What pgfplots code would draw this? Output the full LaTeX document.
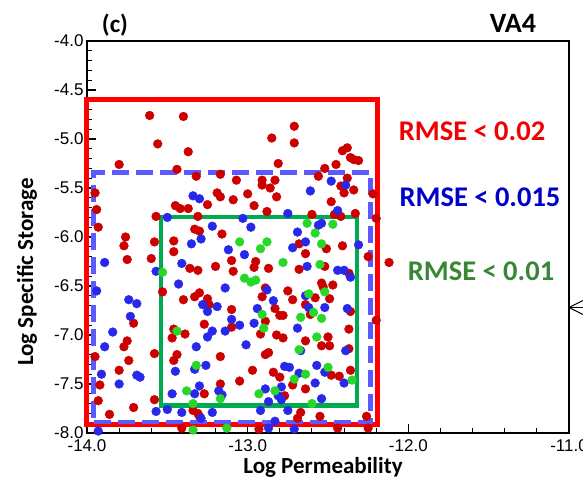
\documentclass[border=0pt]{standalone}
\usepackage{fontspec}
\setmainfont{Liberation Sans}
\newfontfamily\calfont{Carlito}
\usepackage{pgfplots}
\pgfplotsset{compat=1.18}
\definecolor{dotred}{RGB}{205,0,0}
\definecolor{dotblue}{RGB}{40,40,235}
\definecolor{dotgreen}{RGB}{40,215,40}
\definecolor{boxred}{RGB}{255,0,0}
\definecolor{boxblue}{RGB}{90,90,255}
\definecolor{boxgreen}{RGB}{0,170,80}
\definecolor{txtred}{RGB}{240,0,0}
\definecolor{txtblue}{RGB}{0,0,200}
\definecolor{txtgreen}{RGB}{55,135,55}
\begin{document}
\begin{tikzpicture}
\begin{axis}[
  at={(0,0)}, anchor=south west,
  scale only axis, width=482pt, height=392pt,
  xmin=-14, xmax=-11, ymin=-8, ymax=-4,
  clip=false,
  axis line style={black, line width=1.4pt},
  xtick={-14,-13,-12,-11}, xticklabels={-14.0,-13.0,-12.0,-11.0},
  ytick={-8,-7.5,-7,-6.5,-6,-5.5,-5,-4.5,-4},
  yticklabels={-8.0,-7.5,-7.0,-6.5,-6.0,-5.5,-5.0,-4.5,-4.0},
  minor x tick num=4, minor y tick num=4,
  xtick pos=left, ytick pos=left,
  tick align=inside,
  major tick length=9pt, minor tick length=5pt,
  major tick style={black, line width=1.6pt},
  minor tick style={black, line width=1.1pt},
  tick label style={font=\fontsize{17}{17}\selectfont},
  xticklabel style={yshift=-3pt},
  every axis plot/.append style={line join=miter},
]
% RMSE < 0.02
\addplot[only marks, mark=*, mark size=4.4pt, dotred, mark options={draw=dotred, fill=dotred}] coordinates {
(-13.61,-4.76) (-13.40,-4.77) (-13.56,-5.05) (-13.37,-5.13) (-13.80,-5.26) (-13.44,-5.31) (-13.32,-5.38) (-13.17,-5.36) (-13.07,-5.42)
(-12.71,-4.87) (-12.85,-4.99) (-12.71,-5.04) (-12.81,-5.25) (-12.52,-5.30) (-12.45,-5.26) (-12.41,-5.12) (-12.38,-5.09) (-12.36,-5.19) (-12.34,-5.21) (-12.31,-5.22)
(-12.91,-5.42) (-12.91,-5.47) (-12.83,-5.42) (-12.86,-5.50) (-12.56,-5.38) (-12.38,-5.40) (-12.42,-5.48) (-12.34,-5.52)
(-13.95,-5.55) (-13.94,-5.72) (-13.93,-5.90) (-13.19,-5.55) (-13.17,-5.59) (-13.09,-5.62) (-13.25,-5.67) (-13.45,-5.68) (-13.42,-5.71) (-13.37,-5.71) (-13.57,-5.79) (-13.31,-5.79) (-13.33,-5.92) (-13.30,-5.94) (-13.16,-5.97)
(-13.76,-6.00) (-13.77,-6.09) (-13.75,-6.23) (-13.58,-6.05) (-13.46,-6.04) (-13.46,-6.15) (-13.60,-6.22) (-13.36,-6.32) (-13.31,-6.34) (-13.20,-6.30) (-13.10,-6.24) (-13.09,-6.35)
(-13.00,-5.56) (-12.82,-5.59) (-12.40,-5.55) (-12.48,-5.64) (-12.96,-5.68) (-12.88,-5.74) (-12.60,-5.77) (-12.46,-5.77) (-12.42,-5.79) (-12.33,-5.76)
(-12.68,-6.07) (-12.51,-6.12) (-12.41,-6.09) (-12.64,-6.17) (-12.95,-6.25) (-12.96,-6.31) (-12.87,-6.32) (-12.68,-6.33) (-12.52,-6.30) (-12.37,-6.37)
(-13.71,-6.88) (-13.75,-7.06) (-13.77,-7.12) (-13.58,-7.19) (-13.95,-7.22) (-13.74,-7.26)
(-13.53,-6.56) (-13.40,-6.64) (-13.33,-6.61) (-13.30,-6.57) (-13.25,-6.63) (-13.24,-6.69) (-13.10,-6.74) (-13.27,-6.89) (-13.46,-6.94) (-13.39,-6.99) (-13.47,-7.03) (-13.10,-6.92) (-13.44,-7.20) (-13.46,-7.26) (-13.17,-7.22)
(-12.89,-6.52) (-12.91,-6.61) (-12.75,-6.55) (-12.54,-6.47) (-12.53,-6.51) (-12.47,-6.49) (-12.58,-6.62) (-12.49,-6.63) (-12.72,-6.64) (-12.64,-6.69) (-12.61,-6.79) (-12.36,-6.76) (-12.83,-6.73) (-12.80,-6.80) (-12.78,-6.80) (-12.89,-6.86) (-12.92,-6.99) (-12.37,-6.94) (-12.82,-7.00) (-12.78,-7.03) (-12.50,-7.02) (-12.64,-7.06) (-12.54,-7.11) (-12.49,-7.11) (-12.89,-7.20) (-12.87,-7.18) (-12.37,-7.14)
(-13.80,-7.36) (-13.92,-7.51) (-13.93,-7.67) (-13.71,-7.74) (-13.86,-7.81) (-13.58,-7.66) (-13.27,-7.60) (-13.17,-7.50) (-13.34,-7.77) (-13.31,-7.80) (-13.30,-7.83) (-13.41,-7.95)
(-12.97,-7.36) (-13.05,-7.47) (-12.84,-7.38) (-12.80,-7.43) (-12.48,-7.41) (-12.43,-7.42) (-12.36,-7.36) (-12.72,-7.51) (-12.64,-7.55) (-12.77,-7.62) (-12.67,-7.79) (-12.69,-7.85) (-12.55,-7.83) (-12.93,-7.96) (-12.44,-7.95) (-12.25,-7.95)
(-12.12,-6.26) (-12.25,-6.20) (-12.22,-5.56) (-12.20,-5.81) (-12.26,-7.83) (-12.20,-6.85)
};
% RMSE < 0.015
\addplot[only marks, mark=*, mark size=4.4pt, dotblue, mark options={draw=dotblue, fill=dotblue}] coordinates {
(-12.48,-5.43) (-12.39,-5.47) (-12.61,-5.53) (-13.34,-5.58) (-13.30,-5.61) (-13.50,-5.80) (-13.22,-5.89) (-13.35,-6.07) (-13.29,-6.02) (-13.12,-6.13)
(-13.89,-6.26) (-13.41,-6.27) (-13.57,-6.35) (-12.75,-5.76) (-12.44,-5.73) (-13.03,-5.81) (-12.98,-5.90) (-12.54,-5.86) (-12.56,-5.88) (-12.69,-5.95)
(-12.64,-6.05) (-12.72,-6.11) (-12.31,-6.08) (-13.02,-6.18) (-12.63,-6.30) (-12.44,-6.34) (-12.40,-6.34) (-13.94,-6.55) (-13.74,-6.64) (-13.69,-6.68)
(-13.73,-6.81) (-13.84,-6.97) (-13.89,-7.12) (-13.43,-6.48) (-13.28,-6.69) (-13.25,-6.76) (-13.19,-6.71) (-13.14,-6.52) (-13.10,-6.84) (-13.22,-6.96)
(-13.14,-6.96) (-13.25,-7.02) (-13.32,-7.12) (-12.88,-6.54) (-12.36,-6.41) (-12.64,-6.60) (-12.84,-6.65) (-12.62,-6.72) (-12.52,-6.72) (-12.38,-6.73)
(-12.94,-6.73) (-13.05,-6.90) (-12.96,-6.88) (-12.69,-6.93) (-13.01,-7.10) (-12.67,-7.16) (-12.39,-7.16) (-13.91,-7.40) (-13.80,-7.50) (-13.69,-7.41)
(-13.67,-7.43) (-13.93,-7.98) (-13.57,-7.78) (-13.33,-7.35) (-13.26,-7.31) (-13.45,-7.37) (-13.47,-7.60) (-13.33,-7.60) (-13.30,-7.52) (-13.18,-7.57)
(-13.16,-7.61) (-13.50,-7.76) (-13.41,-7.79) (-13.29,-7.85) (-13.22,-7.79) (-12.77,-7.32) (-12.74,-7.33) (-12.68,-7.39) (-12.57,-7.31) (-12.52,-7.38)
(-12.40,-7.49) (-12.58,-7.49) (-12.79,-7.53) (-12.89,-7.55) (-12.81,-7.62) (-12.79,-7.66) (-12.54,-7.65) (-12.87,-7.68) (-12.92,-7.77) (-12.75,-7.77)
(-12.83,-7.88) (-12.87,-7.95) (-12.71,-7.96)
};
% RMSE < 0.01
\addplot[only marks, mark=*, mark size=4.4pt, dotgreen, mark options={draw=dotgreen, fill=dotgreen}] coordinates {
(-12.63,-5.86) (-12.47,-5.87) (-12.58,-5.96) (-13.05,-6.05) (-12.88,-6.05) (-12.92,-6.12) (-12.54,-6.07) (-12.78,-6.26) (-12.55,-6.28) (-13.44,-6.96)
(-13.02,-6.42) (-12.98,-6.46) (-12.95,-6.44) (-12.62,-6.58) (-12.52,-6.56) (-12.59,-6.77) (-12.91,-6.79) (-12.67,-6.82) (-12.54,-6.83) (-12.90,-6.93)
(-12.57,-7.02) (-12.68,-7.15) (-13.32,-7.31) (-13.38,-7.57) (-13.17,-7.65) (-13.34,-7.70) (-13.34,-7.97) (-13.13,-7.95) (-12.64,-7.40) (-12.50,-7.33)
(-12.35,-7.46) (-12.71,-7.45) (-12.83,-7.57) (-12.93,-7.60) (-12.60,-7.70) (-13.53,-6.36)
};
% boxes
\addplot[boxred, line width=5pt, mark=none] coordinates {(-14.0,-7.91) (-12.192,-7.91) (-12.192,-4.594) (-14.0,-4.594) (-14.0,-7.91)} -- cycle;
\addplot[boxblue, line width=4.5pt, mark=none, dash pattern=on 17pt off 7pt] coordinates {(-13.958,-7.888) (-12.235,-7.888) (-12.235,-5.34) (-13.958,-5.34) (-13.958,-7.888)};
\addplot[boxgreen, line width=4.8pt, mark=none] coordinates {(-13.54,-7.723) (-12.32,-7.723) (-12.32,-5.796) (-13.54,-5.796) (-13.54,-7.723)} -- cycle;
\end{axis}
% labels
\node[font=\calfont\bfseries\fontsize{23}{23}\selectfont] at (236pt,-34pt) {Log Permeability};
\node[font=\calfont\bfseries\fontsize{23}{23}\selectfont, rotate=90] at (-60pt,161pt) {Log Specific Storage};
\node[font=\calfont\bfseries\fontsize{25}{25}\selectfont] at (28pt,408pt) {(c)};
\node[font=\calfont\bfseries\fontsize{28}{28}\selectfont] at (426pt,410pt) {VA4};
\node[font=\calfont\bfseries\fontsize{28.5}{28.5}\selectfont, text=txtred] at (385pt,302pt) {RMSE < 0.02};
\node[font=\calfont\bfseries\fontsize{28.5}{28.5}\selectfont, text=txtblue] at (393pt,236pt) {RMSE < 0.015};
\node[font=\calfont\bfseries\fontsize{28.5}{28.5}\selectfont, text=txtgreen] at (394pt,162pt) {RMSE < 0.01};
\draw[black, line width=1pt] (497pt,133pt) -- (482pt,125.5pt) -- (497pt,118pt);
\draw[black, line width=1pt] (482pt,125.5pt) -- (497pt,125.5pt);
\pgfresetboundingbox
\path[use as bounding box] (-87pt,-45pt) rectangle (496pt,433pt);
\end{tikzpicture}
\end{document}
